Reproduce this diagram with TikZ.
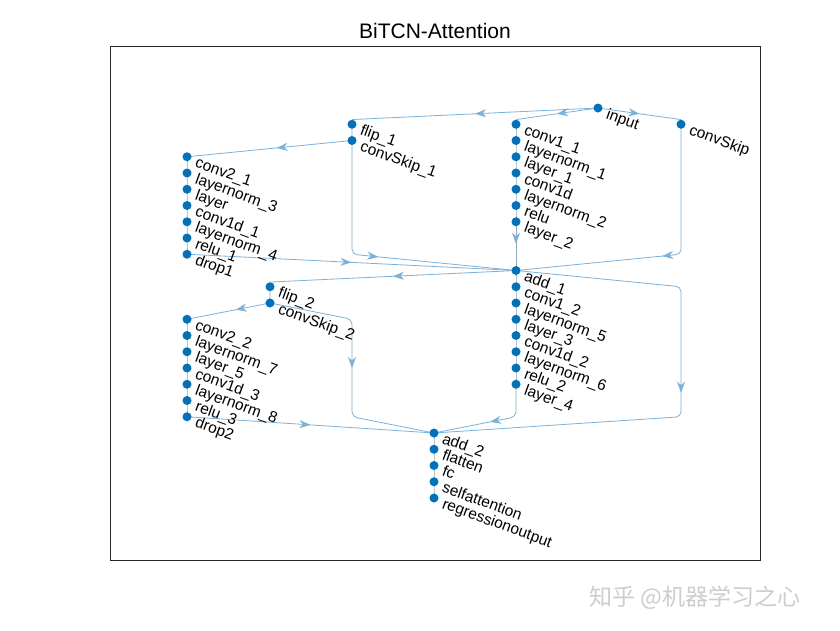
\documentclass[tikz,border=0pt]{standalone}
\usepackage{fontspec}
\setmainfont{Liberation Sans}
\newfontfamily\cjkfont{Noto Sans CJK SC}
\usetikzlibrary{arrows.meta,decorations.markings}
\definecolor{nodec}{RGB}{0,114,189}
\definecolor{edgec}{RGB}{122,178,219}
\definecolor{axc}{RGB}{38,38,38}
\definecolor{wmc}{RGB}{205,205,205}
\pgfdeclarelayer{bg}
\pgfsetlayers{bg,main}
\tikzset{
  dot/.style={circle,fill=nodec,draw=none,minimum size=9pt,inner sep=0pt},
  lbl/.style={anchor=west,rotate=-20,inner sep=0pt,font=\fontsize{15.5}{15.5}\selectfont,text=black,text height=0.72em,text depth=0.2em},
  edge/.style={color=edgec,line width=0.8pt,rounded corners=5pt},
  midarrow/.style={postaction={decorate},decoration={markings,mark=at position #1 with {\arrow{Stealth[length=11pt,width=8pt,inset=3.5pt]}}}},
  midarrow/.default=0.5,
}
\newcommand\lyr[4]{\node[dot] (#1) at (#2,#3) {};
  \node[lbl] (#1l) at ([shift={(8,7.5)}]#1.center) {#4};}
\begin{document}
\begin{tikzpicture}[x=1pt,y=-1pt]
\useasboundingbox (0,0) rectangle (840,630);
\draw[axc,line width=0.7pt] (110,46) rectangle (760,560);
\node[font=\fontsize{21}{21}\selectfont,text=black] (title) at (435,31) {BiTCN-Attention};
% nodes
\lyr{input}{598}{108}{input}
\lyr{cskip}{681}{124.25}{convSkip}
\lyr{flipA}{352}{124.25}{flip\_1}
\lyr{cskA}{352}{140.5}{convSkip\_1}
\lyr{caa}{516}{124.25}{conv1\_1}
\lyr{lna}{516}{140.5}{layernorm\_1}
\lyr{laa}{516}{156.75}{layer\_1}
\lyr{cda}{516}{173}{conv1d}
\lyr{lnb}{516}{189.25}{layernorm\_2}
\lyr{rea}{516}{205.5}{relu}
\lyr{lab}{516}{221.75}{layer\_2}
\lyr{cba}{187}{156.75}{conv2\_1}
\lyr{lnc}{187}{173}{layernorm\_3}
\lyr{lay}{187}{189.25}{layer}
\lyr{cdb}{187}{205.5}{conv1d\_1}
\lyr{lnd}{187}{221.75}{layernorm\_4}
\lyr{reb}{187}{238}{relu\_1}
\lyr{dra}{187}{254.25}{drop1}
\lyr{adda}{516}{270.5}{add\_1}
\lyr{cab}{516}{286.75}{conv1\_2}
\lyr{lne}{516}{303}{layernorm\_5}
\lyr{lac}{516}{319.25}{layer\_3}
\lyr{cdc}{516}{335.5}{conv1d\_2}
\lyr{lnf}{516}{351.75}{layernorm\_6}
\lyr{rec}{516}{368}{relu\_2}
\lyr{lad}{516}{384.25}{layer\_4}
\lyr{flipB}{270}{286.75}{flip\_2}
\lyr{cskB}{270}{303}{convSkip\_2}
\lyr{cbb}{187}{319.25}{conv2\_2}
\lyr{lng}{187}{335.5}{layernorm\_7}
\lyr{lae}{187}{351.75}{layer\_5}
\lyr{cdd}{187}{368}{conv1d\_3}
\lyr{lnh}{187}{384.25}{layernorm\_8}
\lyr{red}{187}{400.5}{relu\_3}
\lyr{drb}{187}{416.75}{drop2}
\lyr{addb}{434}{433}{add\_2}
\lyr{fla}{434}{449.25}{flatten}
\lyr{fc}{434}{465.5}{fc}
\lyr{sat}{434}{481.75}{selfattention}
\lyr{reg}{434}{498}{regressionoutput}
% bend points
\coordinate (bA) at (681,254.25);
\coordinate (bB) at (352,254.25);
\coordinate (bC1) at (681,286.75);
\coordinate (bC2) at (681,416.75);
\coordinate (bD) at (516,416.75);
\coordinate (bE1) at (352,319.25);
\coordinate (bE2) at (352,416.75);
\begin{pgfonlayer}{bg}
\fill[white] (0,0) rectangle (840,630);
\draw[edge,midarrow] (input.center) -- (caa.north);
\draw[edge,midarrow] (input.center) -- (flipA.north);
\draw[edge,midarrow] (input.center) -- (cskip.north);
\draw[edge] (caa.center) -- (lna.center) -- (laa.center) -- (cda.center) -- (lnb.center) -- (rea.center) -- (lab.center);
\draw[edge,midarrow=0.45] (lab.center) -- (adda.center);
\draw[edge,midarrow] (cskip.center) -- (bA) -- (adda.center);
\draw[edge,midarrow] (cskA.center) -- (bB) -- (adda.center);
\draw[edge,midarrow] (flipA.center) -- (cskA.center) -- (cba.center);
\draw[edge] (cba.center) -- (lnc.center) -- (lay.center) -- (cdb.center) -- (lnd.center) -- (reb.center) -- (dra.center);
\draw[edge,midarrow] (dra.center) -- (adda.center);
\draw[edge,midarrow] (adda.center) -- (flipB.north);
\draw[edge,midarrow] (adda.center) -- (bC1) -- (bC2) -- (addb.center);
\draw[edge] (adda.center) -- (cab.center) -- (lne.center) -- (lac.center) -- (cdc.center) -- (lnf.center) -- (rec.center) -- (lad.center);
\draw[edge,midarrow] (lad.center) -- (bD) -- (addb.center);
\draw[edge,midarrow] (flipB.center) -- (cskB.center) -- (cbb.center);
\draw[edge,midarrow] (cskB.center) -- (bE1) -- (bE2) -- (addb.center);
\draw[edge] (cbb.center) -- (lng.center) -- (lae.center) -- (cdd.center) -- (lnh.center) -- (red.center) -- (drb.center);
\draw[edge,midarrow] (drb.center) -- (addb.center);
\draw[edge] (addb.center) -- (fla.center) -- (fc.center) -- (sat.center) -- (reg.center);
\end{pgfonlayer}
\node[anchor=west,inner sep=0pt,text=wmc,font=\cjkfont\fontsize{23}{23}\selectfont] (wm) at (589,598) {知乎 @机器学习之心};
\end{tikzpicture}
\end{document}
